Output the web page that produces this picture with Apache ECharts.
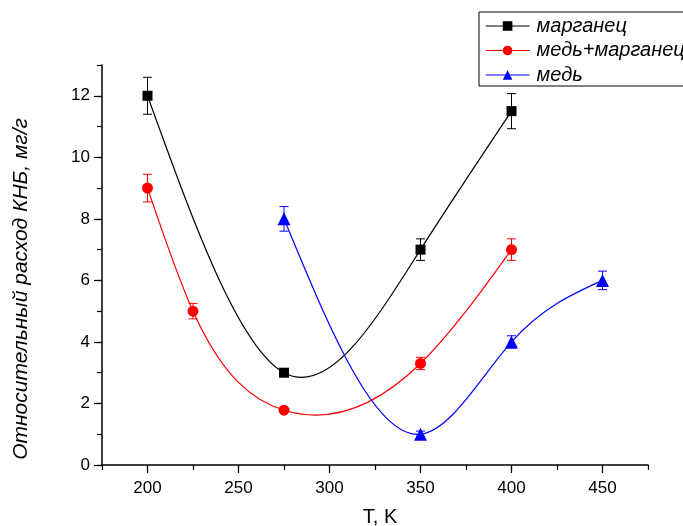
<!DOCTYPE html>
<html>
<head>
<meta charset="utf-8">
<script src="https://cdn.jsdelivr.net/npm/echarts@6/dist/echarts.min.js"></script>
<style>html,body{margin:0;padding:0;background:#fff;}#c{width:683px;height:526px;}</style>
</head>
<body>
<div id="c"></div>
<script>
// Data
const seriesNames = ['марганец', 'медь+марганец', 'медь'];
const mnX = [200, 275, 350, 400];
const mnY = [12, 3, 7, 11.5];
const mnErr = [0.6, 0.05, 0.35, 0.57];
const cuMnX = [200, 225, 275, 350, 400];
const cuMnY = [9, 5, 1.78, 3.3, 7];
const cuMnErr = [0.45, 0.25, 0.05, 0.2, 0.35];
const cuX = [275, 350, 400, 450];
const cuY = [8, 1, 4, 6];
const cuErr = [0.4, 0.1, 0.2, 0.3];
const xTicks = [200, 250, 300, 350, 400, 450];
const yTicks = [0, 2, 4, 6, 8, 10, 12];
const xTitle = 'T, K';
const yTitle = 'Относительный расход КНБ, мг/г';

const colors = ['#000000', '#ff0000', '#0000ff'];
const FONT = 'Liberation Sans, Arial, sans-serif';

function pts(xs, ys) { return xs.map((x, i) => [x, ys[i]]); }
function errPts(xs, ys, es) { return xs.map((x, i) => [x, ys[i], es[i]]); }

// Natural cubic spline second derivatives
function splineM(xs, ys) {
  const n = xs.length, h = [], M = new Array(n).fill(0);
  for (let i = 0; i < n - 1; i++) h.push(xs[i + 1] - xs[i]);
  if (n < 3) return M;
  const a = [], b = [], c = [], d = [];
  for (let i = 1; i < n - 1; i++) {
    a.push(h[i - 1]); b.push(2 * (h[i - 1] + h[i])); c.push(h[i]);
    d.push(6 * ((ys[i + 1] - ys[i]) / h[i] - (ys[i] - ys[i - 1]) / h[i - 1]));
  }
  const m = b.length;
  for (let i = 1; i < m; i++) {
    const w = a[i] / b[i - 1];
    b[i] -= w * c[i - 1]; d[i] -= w * d[i - 1];
  }
  const sol = new Array(m);
  sol[m - 1] = d[m - 1] / b[m - 1];
  for (let i = m - 2; i >= 0; i--) sol[i] = (d[i] - c[i] * sol[i + 1]) / b[i];
  for (let i = 0; i < m; i++) M[i + 1] = sol[i];
  return M;
}

// Custom series drawing the spline through the data (as exact Bezier segments)
function splineSeries(xs, ys, color) {
  const M = splineM(xs, ys);
  return {
    type: 'custom', xAxisIndex: 0, yAxisIndex: 0, z: 2, silent: true,
    data: pts(xs, ys),
    renderItem: function (params, api) {
      if (params.dataIndex !== 0) return null;
      let p = api.coord([xs[0], ys[0]]);
      let d = 'M' + p[0] + ' ' + p[1];
      for (let i = 0; i < xs.length - 1; i++) {
        const h = xs[i + 1] - xs[i];
        const s = (ys[i + 1] - ys[i]) / h;
        const d0 = s - h * (2 * M[i] + M[i + 1]) / 6;
        const d1 = s + h * (M[i] + 2 * M[i + 1]) / 6;
        const c1 = api.coord([xs[i] + h / 3, ys[i] + d0 * h / 3]);
        const c2 = api.coord([xs[i + 1] - h / 3, ys[i + 1] - d1 * h / 3]);
        const e = api.coord([xs[i + 1], ys[i + 1]]);
        d += ' C' + c1[0] + ' ' + c1[1] + ' ' + c2[0] + ' ' + c2[1] + ' ' + e[0] + ' ' + e[1];
      }
      return { type: 'path', shape: { pathData: d }, style: { stroke: color, fill: null, lineWidth: 1.2 } };
    }
  };
}

function errSeries(data, color) {
  return {
    type: 'custom', xAxisIndex: 0, yAxisIndex: 0, z: 3, silent: true,
    data: data,
    renderItem: function (params, api) {
      const x = api.value(0), y = api.value(1), e = api.value(2);
      const top = api.coord([x, y + e]);
      const bot = api.coord([x, y - e]);
      const hw = 4.5;
      const st = { stroke: color, lineWidth: 1 };
      return { type: 'group', children: [
        { type: 'line', shape: { x1: top[0], y1: top[1], x2: bot[0], y2: bot[1] }, style: st },
        { type: 'line', shape: { x1: top[0] - hw, y1: top[1], x2: top[0] + hw, y2: top[1] }, style: st },
        { type: 'line', shape: { x1: bot[0] - hw, y1: bot[1], x2: bot[0] + hw, y2: bot[1] }, style: st }
      ]};
    }
  };
}

const chart = echarts.init(document.getElementById('c'));
const axisLabelStyle = { color: '#000', fontSize: 17, fontFamily: FONT };
chart.setOption({
  animation: false,
  backgroundColor: '#fff',
  grid: { left: 102, right: 35, top: 65, bottom: 61, containLabel: false, outerBoundsMode: 'none' },
  legend: {
    orient: 'vertical', left: 479, top: 12,
    data: seriesNames,
    borderColor: '#000', borderWidth: 1,
    padding: [4, 30, 1, 6],
    itemWidth: 44, itemHeight: 12, itemGap: 4.5,
    lineStyle: { width: 1.2, opacity: 1 },
    textStyle: { fontSize: 20, fontStyle: 'italic', color: '#000', fontFamily: FONT, padding: [0, 0, 0, 2] }
  },
  xAxis: [{
    type: 'value', min: 175, max: 475,
    name: xTitle, nameLocation: 'middle', nameGap: 42,
    nameTextStyle: { fontSize: 20, color: '#000', fontFamily: FONT, padding: [0, 0, 0, 10] },
    axisLine: { onZero: false, lineStyle: { color: '#000', width: 1.5 } },
    axisTick: { customValues: xTicks, length: 8, lineStyle: { color: '#000', width: 1.2 } },
    axisLabel: { customValues: xTicks, margin: 15, ...axisLabelStyle },
    splitLine: { show: false }
  }, {
    type: 'value', min: 175, max: 475, interval: 25, position: 'bottom',
    axisLine: { show: false },
    axisTick: { length: 5, lineStyle: { color: '#000', width: 1.2 } },
    axisLabel: { show: false }, splitLine: { show: false }
  }],
  yAxis: [{
    type: 'value', min: 0, max: 13,
    axisLine: { show: true, onZero: false, lineStyle: { color: '#000', width: 1.5 } },
    axisTick: { show: true, customValues: yTicks, length: 8, lineStyle: { color: '#000', width: 1.2 } },
    axisLabel: { customValues: yTicks, margin: 12, ...axisLabelStyle },
    splitLine: { show: false }
  }, {
    type: 'value', min: 0, max: 13, interval: 1, position: 'left',
    axisLine: { show: false },
    axisTick: { show: true, length: 5, lineStyle: { color: '#000', width: 1.2 } },
    axisLabel: { show: false }, splitLine: { show: false }
  }],
  graphic: [{
    type: 'text', x: 21, y: 289, rotation: Math.PI / 2,
    style: { text: yTitle, fontSize: 21, fontStyle: 'italic', fontFamily: FONT, fill: '#000',
             align: 'center', verticalAlign: 'middle' }
  }],
  series: [
    { name: seriesNames[0], type: 'line', data: pts(mnX, mnY), symbol: 'rect', symbolSize: 10,
      itemStyle: { color: colors[0] }, lineStyle: { color: colors[0], width: 1.2, opacity: 0 }, z: 4 },
    { name: seriesNames[1], type: 'line', data: pts(cuMnX, cuMnY), symbol: 'circle', symbolSize: 11,
      itemStyle: { color: colors[1] }, lineStyle: { color: colors[1], width: 1.2, opacity: 0 }, z: 4 },
    { name: seriesNames[2], type: 'line', data: pts(cuX, cuY), symbol: 'triangle', symbolSize: 13,
      itemStyle: { color: colors[2] }, lineStyle: { color: colors[2], width: 1.2, opacity: 0 }, z: 4 },
    splineSeries(mnX, mnY, colors[0]),
    splineSeries(cuMnX, cuMnY, colors[1]),
    splineSeries(cuX, cuY, colors[2]),
    errSeries(errPts(mnX, mnY, mnErr), colors[0]),
    errSeries(errPts(cuMnX, cuMnY, cuMnErr), colors[1]),
    errSeries(errPts(cuX, cuY, cuErr), colors[2])
  ]
});
</script>
</body>
</html>
